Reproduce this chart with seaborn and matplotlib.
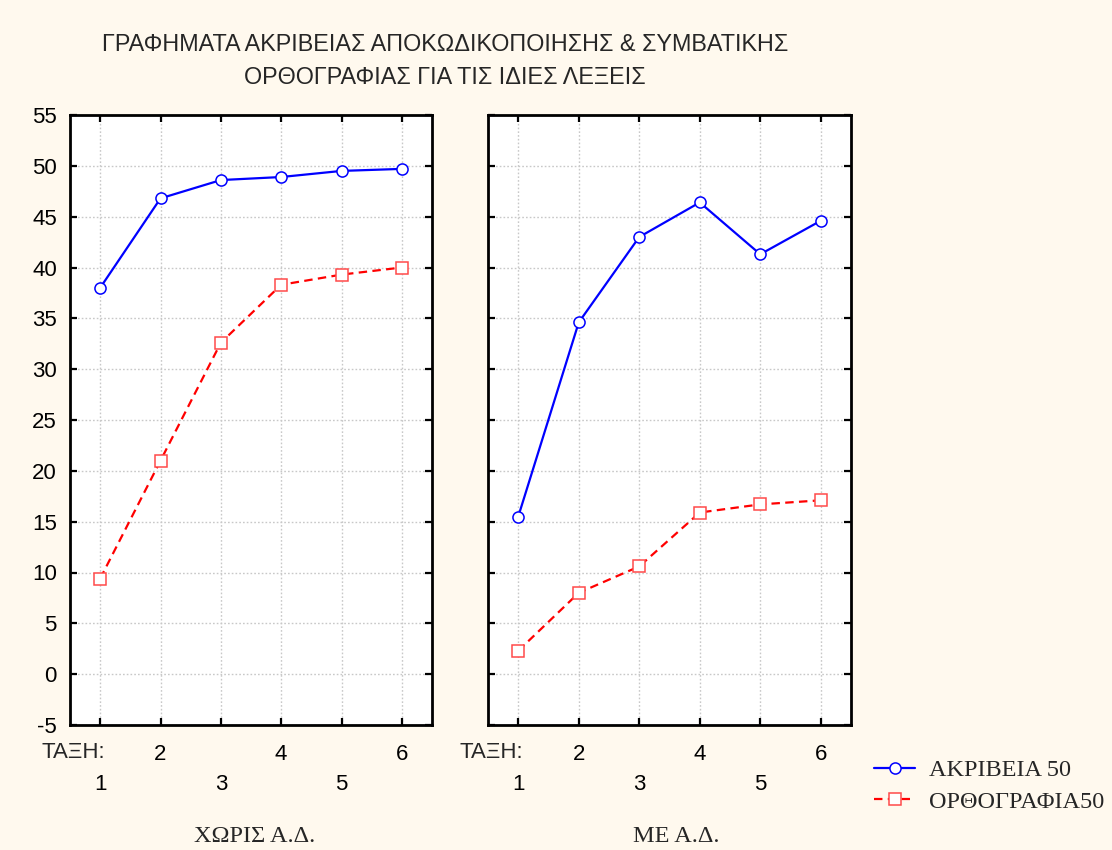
import matplotlib
matplotlib.use("Agg")
import matplotlib.pyplot as plt
import matplotlib.transforms as mtransforms
from matplotlib import font_manager
from matplotlib.lines import Line2D
import pandas as pd
import seaborn as sns

# Grades 1..6 and mean scores (max 50) for each condition
grades = [1, 2, 3, 4, 5, 6]
akriveia_xoris = [38.0, 46.8, 48.6, 48.9, 49.5, 49.7]
orthografia_xoris = [9.4, 21.0, 32.6, 38.3, 39.3, 40.0]
akriveia_me = [15.5, 34.6, 43.0, 46.4, 41.3, 44.6]
orthografia_me = [2.3, 8.0, 10.6, 15.9, 16.7, 17.1]

series_names = ["ΑΚΡΙΒΕΙΑ 50", "ΟΡΘΟΓΡΑΦΙΑ50"]
panel_names = ["ΧΩΡΙΣ Α.Δ.", "ΜΕ Α.Δ."]
grade_label = "ΤΑΞΗ:"
title_text = "ΓΡΑΦΗΜΑΤΑ ΑΚΡΙΒΕΙΑΣ ΑΠΟΚΩΔΙΚΟΠΟΙΗΣΗΣ & ΣΥΜΒΑΤΙΚΗΣ\nΟΡΘΟΓΡΑΦΙΑΣ ΓΙΑ ΤΙΣ ΙΔΙΕΣ ΛΕΞΕΙΣ"
ytick_values = list(range(-5, 56, 5))

sns.set_style("white")
available = {f.name for f in font_manager.fontManager.ttflist}
SANS = "Liberation Sans" if "Liberation Sans" in available else "DejaVu Sans"
NARROW = "Liberation Sans Narrow" if "Liberation Sans Narrow" in available else SANS
SERIF = "Liberation Serif" if "Liberation Serif" in available else "DejaVu Serif"
plt.rcParams["font.family"] = [SANS, "DejaVu Sans"]
plt.rcParams["axes.unicode_minus"] = False

BG = "#FFF9EE"
BLUE = "#0000FF"
RED = "#FF0000"
RED_EDGE = "#FF4A4A"
TICK_FS = 16
SERIF_FS = 17.5

frames = []
for panel, a, o in [(panel_names[0], akriveia_xoris, orthografia_xoris),
                    (panel_names[1], akriveia_me, orthografia_me)]:
    frames.append(pd.DataFrame({"grade": grades, "value": a, "series": series_names[0], "panel": panel}))
    frames.append(pd.DataFrame({"grade": grades, "value": o, "series": series_names[1], "panel": panel}))
df = pd.concat(frames, ignore_index=True)

W, H = 1112, 850
fig = plt.figure(figsize=(W / 100, H / 100), dpi=100, facecolor=BG)

panel_boxes = [(70, 115, 432, 725), (488, 115, 851, 725)]
subtitle_x = [255, 676]
axes = []
for (x0, y0, x1, y1) in panel_boxes:
    ax = fig.add_axes([x0 / W, 1 - y1 / H, (x1 - x0) / W, (y1 - y0) / H])
    axes.append(ax)

LW = 1.6
MS = 8
DASH = [3.8, 2.4]
for i, (ax, panel) in enumerate(zip(axes, panel_names)):
    sub = df[df["panel"] == panel]
    s1 = sub[sub["series"] == series_names[0]]
    s2 = sub[sub["series"] == series_names[1]]
    sns.lineplot(data=s1, x="grade", y="value", ax=ax, color=BLUE, lw=LW,
                 marker="o", markersize=MS, markerfacecolor="white",
                 markeredgecolor=BLUE, markeredgewidth=1.1, zorder=3)
    sns.lineplot(data=s2, x="grade", y="value", ax=ax, color=RED, lw=LW,
                 marker="s", markersize=MS, markerfacecolor="white",
                 markeredgecolor=RED_EDGE, markeredgewidth=1.1, zorder=3)
    ax.lines[-1].set_dashes(DASH)

    ax.set_facecolor("white")
    ax.set_xlim(0.5, 6.5)
    ax.set_ylim(-5, 55)
    ax.set_yticks(ytick_values)
    ax.set_xticks(grades)
    # even grades on the first label row, odd grades on a second row below
    ax.set_xticklabels([str(g) if g % 2 == 0 else "" for g in grades])
    ax.grid(True, color="#C8C8C8", linestyle=(0, (1.2, 1.5)), linewidth=1.0)
    ax.set_axisbelow(True)
    ax.tick_params(axis="both", direction="in", length=5, width=1.6,
                   top=True, right=True, bottom=True, left=True,
                   labelsize=TICK_FS, colors="black")
    ax.tick_params(axis="y", pad=9.5)
    ax.tick_params(axis="x", pad=13.5)
    if i == 1:
        ax.tick_params(axis="y", labelleft=False)
    for sp in ax.spines.values():
        sp.set_visible(True)
        sp.set_color("black")
        sp.set_linewidth(2.0)
    ax.set_xlabel("")
    ax.set_ylabel("")

    odd = [g for g in grades if g % 2 == 1]
    sec = ax.secondary_xaxis("bottom")
    sec.set_xticks(odd)
    sec.set_xticklabels([str(g) for g in odd])
    sec.tick_params(axis="x", length=0, pad=35, labelsize=TICK_FS, colors="black")
    sec.spines["bottom"].set_visible(False)

    trans = mtransforms.blended_transform_factory(ax.transData, fig.transFigure)
    ax.text(1.08, 1 - 753 / H, grade_label, transform=trans, ha="right", va="center",
            fontsize=TICK_FS, clip_on=False)

    fig.text(subtitle_x[i] / W, 1 - 837 / H, panel, ha="center", va="center",
             fontsize=SERIF_FS, family=[SERIF, "DejaVu Serif"])

fig.text(445 / W, 1 - 61 / H, title_text, ha="center", va="center",
         fontsize=16.8, family=[NARROW, SANS], linespacing=1.55)

handles = [
    Line2D([], [], color=BLUE, lw=LW, marker="o", markersize=MS,
           markerfacecolor="white", markeredgecolor=BLUE, markeredgewidth=1.1),
    Line2D([], [], color=RED, lw=LW, marker="s", markersize=MS,
           markerfacecolor="white", markeredgecolor=RED_EDGE, markeredgewidth=1.1,
           dashes=DASH),
]
fig.legend(handles, series_names, loc="upper left",
           bbox_to_anchor=(874 / W, 1 - 759 / H), frameon=False,
           borderpad=0, borderaxespad=0,
           prop={"family": [SERIF, "DejaVu Serif"], "size": SERIF_FS},
           handlelength=1.7, handletextpad=0.55, labelspacing=0.4)

fig.savefig("out.png", dpi=100, facecolor=BG)
